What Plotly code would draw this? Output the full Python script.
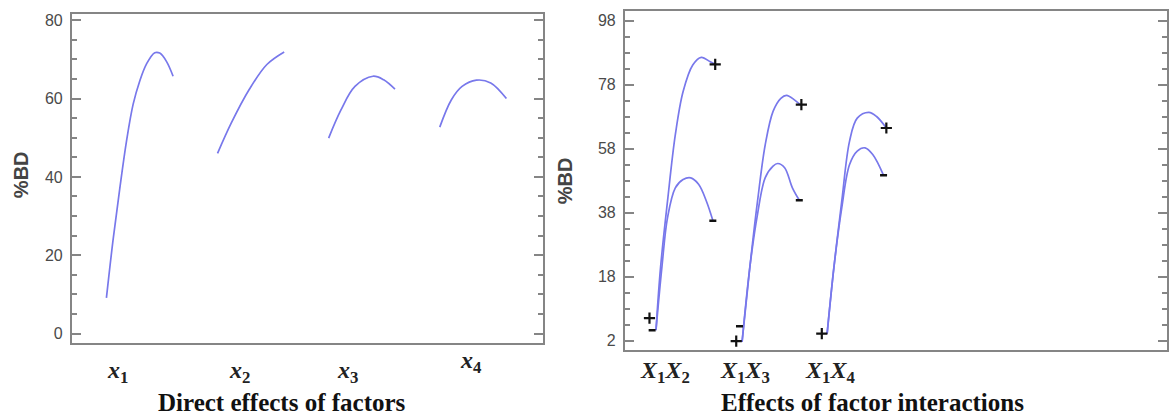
import plotly.graph_objects as go

W, H = 1169, 419

# ---------------- data ----------------
# Left panel: direct effects (coded level t in [-1, 1] around each factor position)
factors = ["x1", "x2", "x3", "x4"]
factor_labels = ["<i>x</i><sub>1</sub>", "<i>x</i><sub>2</sub>", "<i>x</i><sub>3</sub>", "<i>x</i><sub>4</sub>"]
x1_t = [-1.0, -0.8, -0.6, -0.4, -0.2, 0.0, 0.2, 0.45, 0.6, 0.8, 1.0]
x1_y = [9.1, 24.0, 37.0, 49.0, 58.5, 64.5, 68.8, 71.7, 71.6, 69.5, 65.7]
x2_t = [-1.0, -0.59, -0.05, 0.48, 1.0]
x2_y = [46.0, 53.7, 62.3, 68.7, 71.9]
x3_t = [-1.0, -0.63, -0.21, 0.33, 0.65, 0.99]
x3_y = [49.9, 57.1, 63.1, 65.7, 64.8, 62.4]
x4_t = [-1.0, -0.65, -0.33, 0.1, 0.53, 1.0]
x4_y = [52.7, 59.7, 63.1, 64.7, 64.0, 60.0]
direct_t = [x1_t, x2_t, x3_t, x4_t]
direct_y = [x1_y, x2_y, x3_y, x4_y]

# Right panel: interactions, "+" (high) and "-" (low) level of the second factor
interactions = ["x1x2", "x1x3", "x1x4"]
inter_labels = ["<i>X</i><sub>1</sub><i>X</i><sub>2</sub>", "<i>X</i><sub>1</sub><i>X</i><sub>3</sub>",
                "<i>X</i><sub>1</sub><i>X</i><sub>4</sub>"]
x1x2_hi_t = [-1.0, -0.845, -0.61, -0.347, -0.084, 0.242, 0.529, 0.832, 1.0]
x1x2_hi_y = [1.3, 21.0, 41.7, 62.4, 75.9, 84.2, 86.6, 85.2, 84.4]
x1x2_lo_t = [-1.0, -0.80, -0.61, -0.347, -0.084, 0.175, 0.438, 0.70, 0.923]
x1x2_lo_y = [1.3, 21.0, 36.5, 45.8, 48.4, 48.9, 46.9, 41.7, 35.5]
x1x3_hi_t = [-0.983, -0.72, -0.46, -0.2, 0.064, 0.327, 0.52, 0.785, 0.98]
x1x3_hi_y = [-2.4, 21.0, 41.7, 59.3, 69.7, 73.8, 74.7, 73.3, 71.8]
x1x3_lo_t = [-0.983, -0.72, -0.46, -0.2, 0.064, 0.222, 0.455, 0.717, 0.953]
x1x3_lo_y = [-2.4, 21.0, 37.6, 49.0, 52.6, 53.4, 52.1, 45.8, 41.9]
x1x4_hi_t = [-1.0, -0.77, -0.505, -0.242, 0.017, 0.41, 0.67, 1.0]
x1x4_hi_y = [0.2, 21.0, 41.7, 60.4, 67.6, 69.4, 68.1, 64.5]
x1x4_lo_t = [-1.0, -0.77, -0.505, -0.242, 0.017, 0.28, 0.54, 0.906]
x1x4_lo_y = [0.2, 21.0, 39.6, 53.1, 57.3, 58.3, 56.2, 49.7]
inter_hi_t = [x1x2_hi_t, x1x3_hi_t, x1x4_hi_t]
inter_hi_y = [x1x2_hi_y, x1x3_hi_y, x1x4_hi_y]
inter_lo_t = [x1x2_lo_t, x1x3_lo_t, x1x4_lo_t]
inter_lo_y = [x1x2_lo_y, x1x3_lo_y, x1x4_lo_y]

# "+" / "-" point markers at the ends of each interaction curve
plus_t = [-1.22, 1.0, -1.18, 1.02, -1.18, 1.0]
plus_y = [5.1, 84.4, -2.1, 71.8, 0.2, 64.5]
plus_pos = [1, 1, 2, 2, 3, 3]
minus_t = [-1.13, 0.92, -1.07, 0.95, 0.906]
minus_y = [1.3, 35.5, 2.5, 41.9, 49.7]
minus_pos = [1, 1, 2, 2, 3]

left_ticks = [0, 20, 40, 60, 80]
right_tickvals = [-2, 18, 38, 58, 78, 98]
right_ticktext = ["2", "18", "38", "58", "78", "98"]

# ---------------- figure ----------------
LINE = "rgb(120,120,235)"
AXC = "#858585"
HW_L = 0.3     # half-width of a direct-effect curve (in factor spacing units)
HW_R = 0.346   # half-width of an interaction curve

fig = go.Figure()

for i, (ts, ys) in enumerate(zip(direct_t, direct_y)):
    fig.add_trace(go.Scatter(x=[i + 1 + HW_L * t for t in ts], y=ys, mode="lines",
                             line=dict(color=LINE, width=1.7, shape="spline", smoothing=1.0),
                             xaxis="x", yaxis="y", showlegend=False, hoverinfo="skip"))

for i in range(3):
    for ts, ys in ((inter_hi_t[i], inter_hi_y[i]), (inter_lo_t[i], inter_lo_y[i])):
        fig.add_trace(go.Scatter(x=[i + 1 + HW_R * t for t in ts], y=ys, mode="lines",
                                 line=dict(color=LINE, width=1.7, shape="spline", smoothing=1.0),
                                 xaxis="x2", yaxis="y2", showlegend=False, hoverinfo="skip"))

fig.add_trace(go.Scatter(x=[p + HW_R * t for p, t in zip(plus_pos, plus_t)], y=plus_y, mode="markers",
                         marker=dict(symbol="cross-thin", size=8, line=dict(color="#111", width=2.2)),
                         xaxis="x2", yaxis="y2", showlegend=False, hoverinfo="skip"))
fig.add_trace(go.Scatter(x=[p + HW_R * t for p, t in zip(minus_pos, minus_t)], y=minus_y, mode="markers",
                         marker=dict(symbol="line-ew", size=5, line=dict(color="#111", width=2.5)),
                         xaxis="x2", yaxis="y2", showlegend=False, hoverinfo="skip"))

tickfont = dict(family="Liberation Sans Narrow, Arial Narrow, Liberation Sans, Arial", size=16, color="#4a4a4a")

def yaxis_common(domain):
    return dict(domain=domain, showgrid=False, zeroline=False, showline=True, linecolor=AXC,
                linewidth=2, mirror="ticks", ticks="inside", ticklen=9, tickwidth=1.5, tickcolor=AXC,
                tickfont=tickfont, ticklabelstandoff=4,
                minor=dict(ticks="inside", ticklen=5, tickwidth=1.5, tickcolor=AXC, dtick=5, showgrid=False))

def xaxis_common(domain, rng):
    return dict(domain=domain, range=rng, showgrid=False, zeroline=False, showline=True, linecolor=AXC,
                linewidth=2, mirror=True, ticks="", showticklabels=False, fixedrange=True)

yl = yaxis_common([1 - 343 / H, 1 - 12 / H])
yl.update(range=[-2.5, 81.6], tickvals=left_ticks, anchor="x")
yl["minor"]["tick0"] = 0
yr = yaxis_common([1 - 350 / H, 1 - 9.3 / H])
yr.update(range=[-5.0, 101.0], tickvals=right_tickvals, ticktext=right_ticktext, anchor="x2")
yr["minor"]["tick0"] = -2

fig.update_layout(
    width=W, height=H, margin=dict(l=0, r=0, t=0, b=0),
    paper_bgcolor="white", plot_bgcolor="white",
    xaxis=xaxis_common([72 / W, 544 / W], [0.389, 4.63]),
    xaxis2=xaxis_common([626 / W, 1168.5 / W], [0.291, 6.62]),
    yaxis=yl, yaxis2=yr,
)
fig.layout.xaxis.anchor = "y"
fig.layout.xaxis2.anchor = "y2"

ann = []
lab_font = dict(family="Liberation Serif, Times New Roman, serif", size=24, color="#222")
# factor labels below left axis
for txt, px, py in zip(factor_labels, [118, 240, 348, 472], [372, 372, 372, 362]):
    ann.append(dict(text="<b>" + txt + "</b>", x=px / W, y=1 - py / H, xref="paper", yref="paper",
                    showarrow=False, font=lab_font, xanchor="center", yanchor="middle"))
for txt, px in zip(inter_labels, [666, 746, 831]):
    ann.append(dict(text="<b>" + txt + "</b>", x=px / W, y=1 - 372 / H, xref="paper", yref="paper",
                    showarrow=False, font=lab_font, xanchor="center", yanchor="middle"))
title_font = dict(family="Liberation Serif, Times New Roman, serif", size=25, color="#111")
ann.append(dict(text="<b>Direct effects of factors</b>", x=282 / W, y=1 - 402 / H, xref="paper", yref="paper",
                showarrow=False, font=title_font, xanchor="center", yanchor="middle"))
ann.append(dict(text="<b>Effects of factor interactions</b>", x=874 / W, y=1 - 402 / H, xref="paper",
                yref="paper", showarrow=False, font=title_font, xanchor="center", yanchor="middle"))
yt_font = dict(family="Liberation Sans Narrow, Arial Narrow, Liberation Sans, Arial", size=20, color="#444")
ann.append(dict(text="<b>%BD</b>", x=21 / W, y=1 - 173 / H, xref="paper", yref="paper", textangle=-90,
                showarrow=False, font=yt_font, xanchor="center", yanchor="middle"))
ann.append(dict(text="<b>%BD</b>", x=566 / W, y=1 - 180 / H, xref="paper", yref="paper", textangle=-90,
                showarrow=False, font=yt_font, xanchor="center", yanchor="middle"))
fig.update_layout(annotations=ann)

fig.write_html("out.html")
